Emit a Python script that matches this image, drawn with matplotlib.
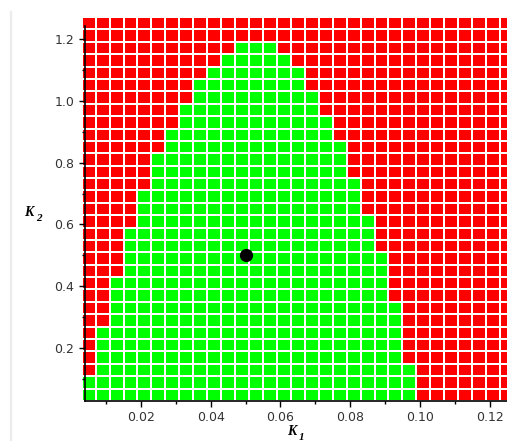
import matplotlib
matplotlib.use("Agg")
import matplotlib.pyplot as plt
import numpy as np
from matplotlib.colors import ListedColormap
from matplotlib.lines import Line2D
from matplotlib.ticker import MultipleLocator

# grid of parameter values that were tested
k1_values = [round(0.005 + 0.004 * i, 3) for i in range(31)]
k2_values = [round(0.05 + 0.04 * j, 2) for j in range(31)]

# for every K2 row (bottom to top): first and last stable K1 column
green_start = [0, 0, 1, 1, 1, 1, 2, 2, 2, 2, 3, 3, 3, 3, 4, 4, 4, 5, 5, 5,
               6, 6, 7, 7, 8, 8, 9, 10, 11, None, None]
green_end = [23, 23, 23, 22, 22, 22, 22, 22, 21, 21, 21, 21, 20, 20, 20, 19,
             19, 19, 18, 18, 18, 17, 17, 16, 16, 15, 15, 14, 13, None, None]

# chosen operating point
point_k1 = [0.05]
point_k2 = [0.5]

stable = np.zeros((len(k2_values), len(k1_values)))
for j, (a, b) in enumerate(zip(green_start, green_end)):
    if a is not None:
        stable[j, a:b + 1] = 1

k1 = np.array(k1_values)
k2 = np.array(k2_values)
dk1 = k1[1] - k1[0]
dk2 = k2[1] - k2[0]
x_edges = np.append(k1 - dk1 / 2, k1[-1] + dk1 / 2)
y_edges = np.append(k2 - dk2 / 2, k2[-1] + dk2 / 2)

fig = plt.figure(figsize=(5.07, 4.41), dpi=100)
ax = fig.add_axes([85.2 / 507, 40.1 / 441, 1 - 85.2 / 507, (400.9 - 17.1) / 441])

mesh = ax.pcolormesh(x_edges, y_edges, stable,
                     cmap=ListedColormap(['#ff0000', '#00ff00']),
                     edgecolors='white', linewidth=1.3, vmin=0, vmax=1)
mesh.set_clip_on(False)

ax.plot(point_k1, point_k2, 'o', color='black', markersize=8.5, zorder=5)

ax.set_xlim(0.004, 0.125)
ax.set_ylim(0.03, 1.27)

for side in ['top', 'right']:
    ax.spines[side].set_visible(False)
ax.spines['left'].set_bounds(0.03, 1.24)
ax.spines['left'].set_linewidth(1.2)
ax.spines['bottom'].set_linewidth(1.2)
ax.spines['left'].set_zorder(6)
ax.spines['bottom'].set_zorder(6)

ax.xaxis.set_major_locator(MultipleLocator(0.02))
ax.xaxis.set_minor_locator(MultipleLocator(0.01))
ax.yaxis.set_major_locator(MultipleLocator(0.2))
ax.yaxis.set_minor_locator(MultipleLocator(0.1))
ax.set_xticks([0.02, 0.04, 0.06, 0.08, 0.10, 0.12])
ax.set_xticklabels(['0.02', '0.04', '0.06', '0.08', '0.10', '0.12'])
ax.set_yticks([0.2, 0.4, 0.6, 0.8, 1.0, 1.2])
ax.set_yticklabels(['0.2', '0.4', '0.6', '0.8', '1.0', '1.2'])

ax.tick_params(which='major', direction='out', length=4, width=1, pad=3,
               labelsize=9, colors='black', labelcolor='#333333')
ax.tick_params(which='minor', direction='out', length=2.3, width=1)
ax.tick_params(axis='y', which='major', pad=4)

lab = dict(family='Liberation Serif', weight='bold', style='italic', color='black')
fig.text(287 / 507, 1 - 435 / 441, 'K', fontsize=10, **lab)
fig.text(299 / 507, 1 - 439.5 / 441, '1', fontsize=8, **lab)
fig.text(24 / 507, 1 - 216 / 441, 'K', fontsize=10, **lab)
fig.text(36 / 507, 1 - 221 / 441, '2', fontsize=8, **lab)

# faint window border at the left
fig.add_artist(Line2D([10.5 / 507, 10.5 / 507], [0, 1 - 12 / 441],
                      transform=fig.transFigure, color='#ececec', linewidth=1.6))

fig.savefig('out.png', dpi=100)
